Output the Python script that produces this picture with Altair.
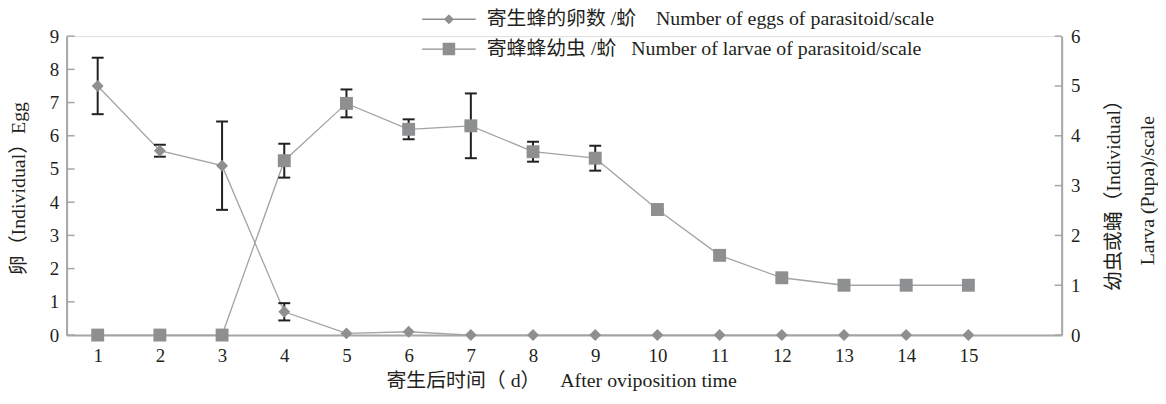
import altair as alt
import pandas as pd

# ---------------- data ----------------
days = list(range(1, 16))
eggs = [7.5, 5.55, 5.1, 0.7, 0.05, 0.1, 0, 0, 0, 0, 0, 0, 0, 0, 0]
eggs_err = [0.85, 0.18, 1.33, 0.26, 0, 0, 0, 0, 0, 0, 0, 0, 0, 0, 0]
larvae = [0, 0, 0, 3.5, 4.65, 4.13, 4.2, 3.68, 3.55, 2.52, 1.6, 1.15, 1.0, 1.0, 1.0]
larvae_err = [0, 0, 0, 0.34, 0.28, 0.2, 0.65, 0.2, 0.25, 0.02, 0, 0, 0, 0.03, 0]
egg_ticks = list(range(0, 10))
larva_ticks = list(range(0, 7))
series = [
    "寄生蜂的卵数 /蚧\u3000Number of eggs of parasitoid/scale",
    "寄蜂蜂幼虫 /蚧\u2002 Number of larvae of parasitoid/scale",
]
x_title = "寄生后时间（ d）\u2002\u2002After oviposition time"
left_title = "卵（Individual）Egg"
right_title = ["幼虫或蛹（Individual）", "Larva (Pupa)/scale"]

# ---------------- style ----------------
FONT = "Liberation Serif, Noto Sans CJK SC"
TXT = "#231f20"
MARK = "#8e8f91"
LINE = "#a3a3a3"
AXIS = "#a6a6a6"
ERR = "#231f20"
W, H = 1002, 301


def frame(vals, errs):
    df = pd.DataFrame({"day": days, "v": vals, "err": errs})
    df["lo"] = df["v"] - df["err"]
    df["hi"] = df["v"] + df["err"]
    return df


egg_df = frame(eggs, eggs_err)
lar_df = frame(larvae, larvae_err)

x_scale = alt.Scale(domain=[0.5, 16.5], nice=False, zero=False)
x_axis = alt.Axis(
    values=days, grid=False, ticks=False, tickSize=0, labelPadding=12,
    labelFontSize=19, labelFont=FONT, labelColor=TXT, labelFlush=False,
    domainColor=AXIS, domainWidth=2, title=x_title, titleFont=FONT,
    titleFontSize=20, titleFontWeight="normal", titleColor=TXT,
    titleX=498, titleY=46, titleAlign="center", titleBaseline="middle",
)
X = alt.X("day:Q", scale=x_scale, axis=x_axis)

egg_scale = alt.Scale(domain=[0, 9], nice=False, zero=True)
lar_scale = alt.Scale(domain=[0, 6], nice=False, zero=True)

egg_axis = alt.Axis(
    orient="left", values=egg_ticks, grid=False, ticks=False, tickSize=0,
    labelPadding=8, labelFontSize=19, labelFont=FONT, labelColor=TXT,
    domainColor=AXIS, domainWidth=2, title=left_title, titleFont=FONT,
    titleFontSize=20, titleFontWeight="normal", titleColor=TXT,
    titleAngle=270, titleX=-48, titleY=153, titleAlign="center",
    titleBaseline="middle",
)
lar_axis = alt.Axis(
    orient="right", values=larva_ticks, grid=False, ticks=False, tickSize=0,
    labelPadding=9, labelFontSize=19, labelFont=FONT, labelColor=TXT,
    domainColor=AXIS, domainWidth=2, title=right_title, titleFont=FONT,
    titleFontSize=20, titleFontWeight="normal", titleColor=TXT,
    titleAngle=270, titleX=52, titleY=155, titleAlign="center",
    titleBaseline="middle", titleLineHeight=34,
)


def group(df, scale, axis, shape, size, ticks, tick_x, tick_x2):
    Y = lambda f: alt.Y(f, scale=scale, axis=axis)
    base = alt.Chart(df)
    line = base.mark_line(color=LINE, strokeWidth=1.3).encode(x=X, y=Y("v:Q"))
    err = base.transform_filter("datum.err > 0")
    bar = err.mark_rule(color=ERR, strokeWidth=2).encode(
        x=X, y=Y("lo:Q"), y2="hi:Q")
    cap_lo = err.mark_tick(orient="horizontal", size=12, thickness=2,
                           color=ERR, opacity=1).encode(x=X, y=Y("lo:Q"))
    cap_hi = err.mark_tick(orient="horizontal", size=12, thickness=2,
                           color=ERR, opacity=1).encode(x=X, y=Y("hi:Q"))
    pts = base.mark_point(shape=shape, filled=True, size=size, color=MARK,
                          opacity=1).encode(x=X, y=Y("v:Q"))
    tk = alt.Chart(pd.DataFrame({"t": ticks})).mark_rule(
        color=AXIS, strokeWidth=1.5).encode(
        y=Y("t:Q"), x=alt.value(tick_x), x2=alt.value(tick_x2))
    return alt.layer(tk, line, bar, cap_lo, cap_hi, pts)


eggs_group = group(egg_df, egg_scale, egg_axis, "diamond", 144, egg_ticks, 0, 8)
lar_group = group(lar_df, lar_scale, lar_axis, "square", 169, larva_ticks, W - 7, W)

# legend symbols: a thin filled bar (the line) plus the marker, same winding
bar_path = "M-2.7,-0.065L2.7,-0.065L2.7,0.065L-2.7,0.065Z"
path_d = bar_path + "M-0.5,0L0,-0.5L0.5,0L0,0.5Z"
path_s = bar_path + "M-0.63,-0.63L0.63,-0.63L0.63,0.63L-0.63,0.63Z"
legend_layer = alt.Chart(pd.DataFrame({"series": series})).mark_point(
    filled=True, color=MARK, size=400, opacity=1).encode(
    shape=alt.Shape(
        "series:N",
        scale=alt.Scale(domain=series, range=[path_d, path_s]),
        legend=alt.Legend(
            title=None, orient="none", legendX=375, legendY=-27,
            direction="vertical", labelFont=FONT, labelFontSize=20,
            labelColor=TXT, labelLimit=0, symbolSize=400,
            symbolFillColor=MARK, symbolStrokeWidth=0,
            labelOffset=28, rowPadding=10, padding=0,
        ),
    )
).transform_filter("false")

chart = alt.layer(eggs_group, lar_group, legend_layer).resolve_scale(
    y="independent"
).properties(
    width=W, height=H,
    autosize=alt.AutoSizeParams(type="none"),
    padding={"left": 59, "top": 27, "right": 97, "bottom": 55},
).configure_view(stroke=None).configure(font=FONT)

chart.save("out.html", embed_options={"renderer": "svg", "actions": False})
